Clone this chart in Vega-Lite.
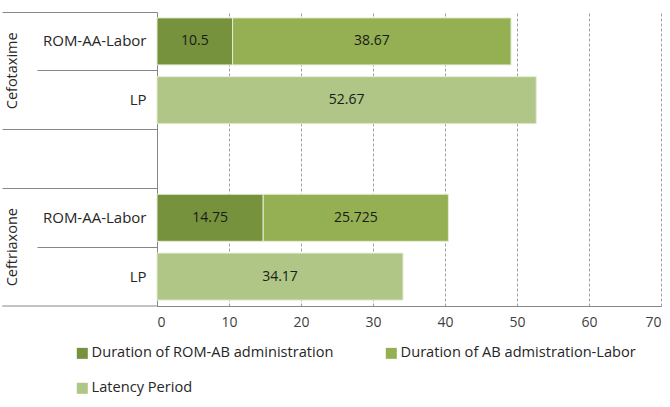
{
  "$schema": "https://vega.github.io/schema/vega-lite/v6.json",
  "autosize": {"type": "none"},
  "padding": {"left": 157, "top": 12, "right": 9, "bottom": 101},
  "width": 504,
  "height": 294,
  "config": {
    "font": "Open Sans",
    "view": {"stroke": null},
    "axis": {"labelFont": "Open Sans", "labelColor": "#262626", "labelFontSize": 14}
  },
  "data": {
    "values": [
      {"drug": "Cefotaxime", "row": "Cefotaxime|ROM-AA-Labor", "series": "Duration of ROM-AB administration", "value": 10.5},
      {"drug": "Cefotaxime", "row": "Cefotaxime|ROM-AA-Labor", "series": "Duration of AB admistration-Labor", "value": 38.67},
      {"drug": "Cefotaxime", "row": "Cefotaxime|LP", "series": "Latency Period", "value": 52.67},
      {"drug": "Ceftriaxone", "row": "Ceftriaxone|ROM-AA-Labor", "series": "Duration of ROM-AB administration", "value": 14.75},
      {"drug": "Ceftriaxone", "row": "Ceftriaxone|ROM-AA-Labor", "series": "Duration of AB admistration-Labor", "value": 25.725},
      {"drug": "Ceftriaxone", "row": "Ceftriaxone|LP", "series": "Latency Period", "value": 34.17}
    ]
  },
  "encoding": {
    "y": {
      "field": "row", "type": "nominal",
      "scale": {"domain": ["Cefotaxime|ROM-AA-Labor", "Cefotaxime|LP", "gap", "Ceftriaxone|ROM-AA-Labor", "Ceftriaxone|LP"], "paddingInner": 0, "paddingOuter": 0},
      "axis": {
        "title": null,
        "labelExpr": "indexof(datum.value, '|') >= 0 ? split(datum.value, '|')[1] : ''",
        "labelFontSize": 15,
        "domainColor": "#868686",
        "bandPosition": 0,
        "tickSize": 155,
        "tickColor": "#868686",
        "tickDash": {"condition": {"test": "indexof(datum.value, 'LP') >= 0", "value": [120, 1000]}, "value": []},
        "labelPadding": -144
      }
    }
  },
  "layer": [
    {
      "mark": {"type": "bar", "height": {"band": 0.8}, "stroke": "#e4ecd3", "strokeWidth": 1},
      "encoding": {
        "x": {
          "field": "value", "type": "quantitative", "stack": "zero",
          "scale": {"domain": [0, 70], "nice": false},
          "axis": {
            "title": null, "values": [0, 10, 20, 30, 40, 50, 60, 70],
            "domainColor": "#868686", "ticks": false,
            "gridColor": "#a0a0a0", "gridDash": [3, 2],
            "labelPadding": 9, "labelColor": "#404040"
          }
        },
        "color": {
          "field": "series", "type": "nominal",
          "scale": {
            "domain": ["Duration of ROM-AB administration", "Duration of AB admistration-Labor", "Latency Period"],
            "range": ["#77923C", "#94B052", "#AFC686"]
          },
          "legend": {
            "title": null, "orient": "none", "legendX": -82, "legendY": 334,
            "direction": "horizontal", "columns": 2, "columnPadding": 50, "rowPadding": 20,
            "symbolType": "square", "symbolSize": 121, "symbolStrokeWidth": 0,
            "labelFontSize": 14.6, "labelColor": "#262626", "labelFont": "Open Sans", "labelOffset": 2, "labelLimit": 0
          }
        },
        "order": {"field": "series", "sort": "descending"}
      }
    },
    {
      "transform": [
        {"stack": "value", "groupby": ["row"], "sort": [{"field": "series", "order": "descending"}], "as": ["v0", "v1"]},
        {"fold": ["v0", "v1"], "as": ["edge", "pos"]}
      ],
      "mark": {"type": "text", "fontSize": 14, "color": "#1a1a1a", "baseline": "middle"},
      "encoding": {
        "x": {"field": "pos", "type": "quantitative", "aggregate": "mean"},
        "detail": {"field": "series"},
        "text": {"field": "value", "type": "quantitative", "aggregate": "max"}
      }
    },
    {
      "transform": [{"filter": "datum.series == 'Latency Period'"}],
      "mark": {"type": "text", "fontSize": 14.5, "color": "#262626", "angle": 270, "align": "center", "baseline": "middle", "dy": -144},
      "encoding": {
        "y": {"field": "row", "type": "nominal", "bandPosition": 0},
        "x": {"datum": 0},
        "text": {"field": "drug"}
      }
    },
    {
      "transform": [{"filter": "datum.row == 'Ceftriaxone|LP'"}],
      "mark": {"type": "rule", "color": "#868686", "strokeWidth": 1},
      "encoding": {
        "y": {"field": "row", "type": "nominal", "bandPosition": 1},
        "x": {"datum": -21.5},
        "x2": {"datum": 0}
      }
    }
  ]
}
